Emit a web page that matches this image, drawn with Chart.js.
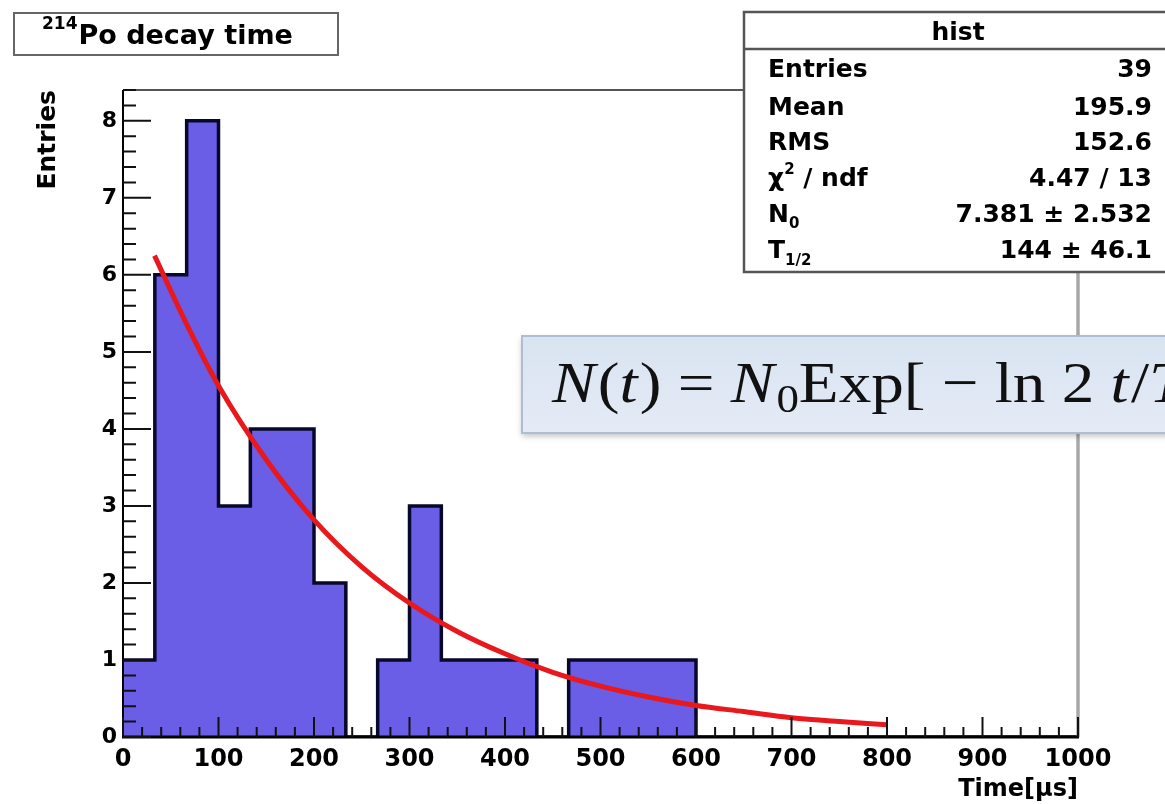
<!DOCTYPE html>
<html>
<head>
<meta charset="utf-8">
<script src="https://cdn.jsdelivr.net/npm/chart.js@4.4.1/dist/chart.umd.min.js"></script>
<style>
  html, body { margin: 0; padding: 0; background: #fff; }
  #wrap { width: 1165px; height: 804px; }
</style>
</head>
<body>
<div id="wrap"><canvas id="histo" width="1165" height="804"></canvas></div>
<script>
// histograma: 30 bins de 0 a 1000 us
const binLow = 0;
const binHigh = 1000;
const binCounts = [1, 6, 8, 3, 4, 4, 2, 0, 1, 3, 1, 1, 1, 0, 1, 1, 1, 1, 0, 0, 0, 0, 0, 0, 0, 0, 0, 0, 0, 0];

// curva do ajuste
const fitTime = [33, 67, 100, 150, 200, 250, 300, 350, 400, 450, 500, 550, 600, 650, 700, 750, 800];
const fitEntries = [6.25, 5.35, 4.56, 3.6, 2.82, 2.21, 1.74, 1.37, 1.08, 0.84, 0.66, 0.52, 0.41, 0.33, 0.25, 0.2, 0.16];

// textos
const histTitle = 'Po decay time';
const histTitleSup = '214';
const statsTitle = 'hist';
const statsValues = ['39', '195.9', '152.6', '4.47 / 13', '7.381 \u00b1 2.532', '144 \u00b1 46.1'];
const xTitle = 'Time[\u00b5s]';
const yTitle = 'Entries';

const FONT = "'DejaVu Sans', sans-serif";
Chart.defaults.font.family = FONT;

// ponto na borda esquerda de cada bin + ponto final em binHigh
const binWidth = (binHigh - binLow) / binCounts.length;
const histPoints = binCounts.map((c, i) => ({ x: binLow + i * binWidth, y: c }));
histPoints.push({ x: binHigh, y: binCounts[binCounts.length - 1] });
const fitPoints = fitTime.map((t, i) => ({ x: t, y: fitEntries[i] }));

function drawPieces(ctx, pieces, x, y) {
  let cx = x;
  pieces.forEach(p => {
    ctx.font = p.font;
    ctx.fillText(p.t, cx, y + (p.dy || 0));
    cx += ctx.measureText(p.t).width + (p.gap || 0);
  });
  return cx;
}

const rootPlugin = {
  id: 'rootStyle',
  beforeDraw(chart) {
    const ctx = chart.ctx;
    ctx.save();
    ctx.fillStyle = '#fff';
    ctx.fillRect(0, 0, chart.width, chart.height);
    ctx.restore();
  },
  afterDatasetsDraw(chart) {
    const ctx = chart.ctx;
    const a = chart.chartArea;
    const xs = chart.scales.x, ys = chart.scales.y;
    ctx.save();

    // moldura
    ctx.strokeStyle = '#555';
    ctx.lineWidth = 2;
    ctx.beginPath();
    ctx.moveTo(a.left, a.top); ctx.lineTo(a.right, a.top);
    ctx.stroke();
    ctx.strokeStyle = '#a8a8a8';
    ctx.lineWidth = 3.5;
    ctx.beginPath();
    ctx.moveTo(a.right, a.top); ctx.lineTo(a.right, a.bottom);
    ctx.stroke();

    // eixos
    ctx.strokeStyle = '#000';
    ctx.lineWidth = 2;
    ctx.beginPath();
    ctx.moveTo(a.left, a.top); ctx.lineTo(a.left, a.bottom + 1);
    ctx.stroke();
    ctx.lineWidth = 3;
    ctx.beginPath();
    ctx.moveTo(a.left - 1, a.bottom); ctx.lineTo(a.right + 1, a.bottom);
    ctx.stroke();

    // marcas para dentro
    ctx.lineWidth = 2;
    ctx.strokeStyle = '#111';
    ctx.beginPath();
    for (let v = 0; v <= 1000; v += 20) {
      const px = xs.getPixelForValue(v);
      const len = (v % 100 === 0) ? 20 : 10;
      ctx.moveTo(px, a.bottom); ctx.lineTo(px, a.bottom - len);
    }
    for (let k = 0; k <= 42; k++) {
      const py = ys.getPixelForValue(k / 5);
      const len = (k % 5 === 0) ? 28 : 13;
      ctx.moveTo(a.left, py); ctx.lineTo(a.left + len, py);
    }
    ctx.stroke();

    // titulos dos eixos
    ctx.fillStyle = '#000';
    ctx.font = 'bold 24px ' + FONT;
    ctx.textAlign = 'right';
    ctx.textBaseline = 'alphabetic';
    ctx.fillText(xTitle, a.right, 796);
    ctx.save();
    ctx.translate(55, a.top);
    ctx.rotate(-Math.PI / 2);
    ctx.font = 'bold 25px ' + FONT;
    ctx.textAlign = 'right';
    ctx.fillText(yTitle, 0, 0);
    ctx.restore();

    // caixa da formula
    ctx.save();
    ctx.shadowColor = 'rgba(0,0,0,0.25)';
    ctx.shadowBlur = 6;
    ctx.shadowOffsetY = 3;
    const g = ctx.createLinearGradient(0, 336, 0, 433);
    g.addColorStop(0, '#d9e3f1');
    g.addColorStop(1, '#e4ebf6');
    ctx.fillStyle = g;
    ctx.fillRect(522, 336, 700, 97);
    ctx.restore();
    ctx.strokeStyle = '#aebcd4';
    ctx.lineWidth = 2;
    ctx.strokeRect(522, 336, 700, 97);

    const serif = "'Liberation Serif', 'DejaVu Serif', serif";
    const fIt = 'italic 58px ' + serif;
    const fUp = '58px ' + serif;
    const fSub = '40px ' + serif;
    const formula = [
      { t: 'N', font: fIt, gap: 2 }, { t: '(', font: fUp }, { t: 't', font: fIt, gap: 2 }, { t: ')', font: fUp },
      { t: ' = ', font: fUp }, { t: 'N', font: fIt, gap: 2 }, { t: '0', font: fSub, dy: 10 },
      { t: 'Exp[ \u2212 ln 2 ', font: fUp }, { t: 't', font: fIt, gap: 2 }, { t: '/', font: fUp }
    ];
    ctx.fillStyle = '#111';
    ctx.textAlign = 'left';
    ctx.textBaseline = 'alphabetic';
    ctx.save();
    ctx.globalAlpha = 0;
    const w = drawPieces(ctx, formula, 0, -1000);
    ctx.restore();
    const sx = (1149 - 552) / w;
    ctx.save();
    ctx.translate(552, 402);
    ctx.scale(sx, 1);
    const endX = drawPieces(ctx, formula, 0, 0);
    ctx.font = fIt;
    ctx.fillText('T', endX, 0);
    ctx.restore();

    // caixa de estatisticas
    ctx.fillStyle = '#fff';
    ctx.fillRect(744, 12, 440, 260);
    ctx.strokeStyle = '#555';
    ctx.lineWidth = 2.5;
    ctx.strokeRect(744, 12, 440, 260);
    ctx.beginPath();
    ctx.moveTo(744, 49); ctx.lineTo(1165, 49);
    ctx.stroke();
    ctx.fillStyle = '#000';
    ctx.textBaseline = 'alphabetic';
    ctx.font = 'bold 25px ' + FONT;
    ctx.textAlign = 'center';
    ctx.fillText(statsTitle, 958, 40);
    const rowY = [77, 115, 150, 186, 222, 258];
    const fB = 'bold 25px ' + FONT;
    const fS = 'bold 15px ' + FONT;
    ctx.textAlign = 'left';
    drawPieces(ctx, [{ t: 'Entries', font: fB }], 768, rowY[0]);
    drawPieces(ctx, [{ t: 'Mean', font: fB }], 768, rowY[1]);
    drawPieces(ctx, [{ t: 'RMS', font: fB }], 768, rowY[2]);
    drawPieces(ctx, [{ t: '\u03c7', font: fB }, { t: '2', font: fS, dy: -12 }, { t: ' / ndf', font: fB }], 768, rowY[3]);
    drawPieces(ctx, [{ t: 'N', font: fB }, { t: '0', font: fS, dy: 6 }], 768, rowY[4]);
    drawPieces(ctx, [{ t: 'T', font: fB }, { t: '1/2', font: fS, dy: 7 }], 768, rowY[5]);
    ctx.textAlign = 'right';
    ctx.font = fB;
    statsValues.forEach((v, i) => ctx.fillText(v, 1152, rowY[i]));

    // legenda/titulo
    ctx.fillStyle = '#fff';
    ctx.fillRect(14, 13, 324, 42);
    ctx.strokeStyle = '#666';
    ctx.lineWidth = 2;
    ctx.strokeRect(14, 13, 324, 42);
    ctx.fillStyle = '#000';
    ctx.textAlign = 'left';
    drawPieces(ctx, [{ t: histTitleSup, font: 'bold 17px ' + FONT, dy: -15, gap: 1 }, { t: histTitle, font: 'bold 27px ' + FONT }], 42, 44);

    ctx.restore();
  }
};

new Chart(document.getElementById('histo'), {
  type: 'line',
  data: {
    datasets: [
      {
        label: 'hist',
        data: histPoints,
        stepped: 'before',
        fill: 'origin',
        backgroundColor: '#6a5de6',
        borderColor: '#08082a',
        borderWidth: 3.5,
        pointRadius: 0,
        order: 2
      },
      {
        label: 'fit',
        data: fitPoints,
        fill: false,
        borderColor: '#e8181c',
        borderWidth: 5,
        pointRadius: 0,
        tension: 0.4,
        cubicInterpolationMode: 'monotone',
        order: 1
      }
    ]
  },
  options: {
    responsive: false,
    animation: false,
    layout: { padding: { top: 90, right: 87, left: 0, bottom: 0 } },
    plugins: { legend: { display: false }, tooltip: { enabled: false }, title: { display: false } },
    scales: {
      x: {
        type: 'linear',
        min: 0,
        max: 1000,
        grid: { display: false, drawTicks: false },
        border: { display: false },
        ticks: {
          stepSize: 100, includeBounds: false, padding: 8, color: '#000', maxRotation: 0,
          font: { size: 24, weight: 'bold' },
          callback: v => String(v)
        },
        afterFit(s) { s.height = 67; }
      },
      y: {
        type: 'linear',
        min: 0,
        max: 8.4,
        grid: { display: false, drawTicks: false },
        border: { display: false },
        ticks: {
          stepSize: 1, includeBounds: false, padding: 6, color: '#000',
          font: { size: 22, weight: 'bold' },
          callback: v => String(v)
        },
        afterFit(s) { s.width = 123; }
      }
    }
  },
  plugins: [rootPlugin]
});
</script>
</body>
</html>
